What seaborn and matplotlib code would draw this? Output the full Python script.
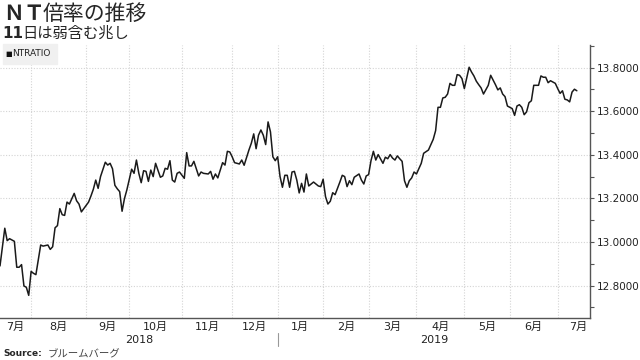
import matplotlib
matplotlib.use("Agg")
import matplotlib.pyplot as plt
import matplotlib.transforms as mtransforms
from matplotlib.ticker import MultipleLocator, FuncFormatter
import pandas as pd
import seaborn as sns

# ---------------------------------------
# Data (x = trading day since 2018-07-12)
# ---------------------------------------

day = [
    0, 2, 3, 4, 5, 6, 7, 8, 9, 10, 11, 12, 13, 14, 15, 17, 18, 20, 21, 22,
    23, 24, 25, 26, 27, 28, 29, 31, 32, 33, 34, 35, 37, 38, 39, 40, 41, 42, 44, 45,
    46, 47, 48, 49, 50, 51, 52, 53, 55, 56, 57, 58, 59, 60, 61, 62, 63, 64, 65, 67,
    68, 69, 70, 71, 72, 73, 74, 75, 77, 78, 79, 80, 81, 83, 84, 85, 87, 88, 89, 90,
    91, 93, 94, 95, 96, 97, 98, 100, 101, 102, 104, 105, 106, 107, 108, 109, 110, 111, 112, 113,
    114, 115, 116, 117, 118, 119, 120, 121, 122, 123, 124, 125, 126, 127, 128, 129, 131, 133, 134, 135,
    136, 137, 138, 139, 140, 142, 143, 144, 145, 146, 147, 148, 150, 151, 152, 153, 154, 155, 156, 157,
    158, 160, 161, 162, 163, 164, 165, 166, 167, 168, 169, 170, 171, 172, 173, 174, 176, 177, 179, 181,
    182, 183, 184, 185, 186, 187, 188, 189, 190, 191, 192, 193, 194, 196, 197, 198, 199, 200, 201, 202,
    204, 205, 207, 208, 209, 210, 211, 212, 213, 214, 215, 216, 217, 218, 219, 220, 221, 222, 223, 225,
    226, 227, 228, 229, 230, 232, 233, 234, 235, 236, 237, 238, 239, 240, 241,
]

ratio = [
    12.890, 13.063, 13.006, 13.015, 13.009, 13.003, 12.884, 12.884, 12.896, 12.798,
    12.792, 12.755, 12.865, 12.856, 12.850, 12.986, 12.981, 12.986, 12.966, 12.978,
    13.065, 13.075, 13.153, 13.125, 13.122, 13.183, 13.174, 13.223, 13.189, 13.174,
    13.138, 13.153, 13.183, 13.211, 13.242, 13.284, 13.246, 13.300, 13.366, 13.353,
    13.361, 13.336, 13.260, 13.244, 13.231, 13.141, 13.199, 13.239, 13.334, 13.315,
    13.376, 13.315, 13.272, 13.327, 13.324, 13.278, 13.330, 13.300, 13.361, 13.297,
    13.303, 13.338, 13.334, 13.373, 13.284, 13.275, 13.315, 13.321, 13.292, 13.410,
    13.349, 13.349, 13.370, 13.303, 13.321, 13.315, 13.312, 13.324, 13.288, 13.312,
    13.294, 13.364, 13.353, 13.416, 13.413, 13.391, 13.364, 13.358, 13.376, 13.352,
    13.422, 13.453, 13.496, 13.428, 13.490, 13.514, 13.490, 13.447, 13.551, 13.505,
    13.391, 13.373, 13.391, 13.300, 13.251, 13.306, 13.306, 13.251, 13.321, 13.324,
    13.284, 13.225, 13.269, 13.229, 13.312, 13.257, 13.275, 13.257, 13.254, 13.288,
    13.208, 13.174, 13.187, 13.226, 13.217, 13.275, 13.306, 13.300, 13.254, 13.281,
    13.263, 13.297, 13.312, 13.284, 13.266, 13.303, 13.309, 13.373, 13.416, 13.376,
    13.401, 13.361, 13.389, 13.382, 13.401, 13.385, 13.376, 13.395, 13.382, 13.370,
    13.281, 13.251, 13.281, 13.294, 13.321, 13.312, 13.361, 13.407, 13.422, 13.471,
    13.511, 13.618, 13.618, 13.661, 13.664, 13.679, 13.728, 13.719, 13.719, 13.768,
    13.765, 13.750, 13.704, 13.802, 13.780, 13.762, 13.738, 13.722, 13.707, 13.679,
    13.719, 13.765, 13.722, 13.698, 13.707, 13.679, 13.667, 13.624, 13.618, 13.612,
    13.581, 13.624, 13.630, 13.618, 13.584, 13.597, 13.639, 13.648, 13.719, 13.719,
    13.762, 13.756, 13.756, 13.731, 13.740, 13.728, 13.704, 13.682, 13.694, 13.655,
    13.652, 13.643, 13.688, 13.701, 13.694,
]

# first trading day of each month (Aug 2018 .. Jul 2019)
month_starts = [13, 36, 54, 76, 97, 116, 135, 154, 174, 194, 213, 233]
month_labels = ["7月", "8月", "9月", "10月", "11月", "12月",
                "1月", "2月", "3月", "4月", "5月", "6月", "7月"]
years = ["2018", "2019"]

df = pd.DataFrame({"day": day, "ratio": ratio})

# ---------------------------------------
# Style
# ---------------------------------------

sns.set_style("white")
plt.rcParams["font.family"] = ["DejaVu Sans", "Noto Sans CJK JP"]

fig = plt.figure(figsize=(6.4, 3.6), dpi=100)
ax = fig.add_axes([0, 1 - 318 / 360, 590 / 640, (318 - 45) / 360])

sns.lineplot(data=df, x="day", y="ratio", ax=ax, color="#1a1a1a",
             linewidth=1.1, legend=False)

x_end = 246.5
ax.set_xlim(0, x_end)
ax.set_ylim(12.651, 13.904)
ax.set_xlabel("")
ax.set_ylabel("")

# spines
for s in ["left", "top"]:
    ax.spines[s].set_visible(False)
for s in ["right", "bottom"]:
    ax.spines[s].set_color("#555555")
    ax.spines[s].set_linewidth(1.0)

# y axis on the right
ax.yaxis.tick_right()
ax.yaxis.set_major_locator(MultipleLocator(0.2))
ax.yaxis.set_minor_locator(MultipleLocator(0.1))
ax.yaxis.set_major_formatter(FuncFormatter(lambda v, p: f"{v:.4f}"))
ax.tick_params(axis="y", which="both", right=True, left=False, length=3,
               width=0.8, color="#555555", labelsize=7.5, pad=2,
               labelcolor="#222222")

# x axis: month boundaries as ticks, labels centred in each month
ax.set_xticks(month_starts)
ax.set_xticklabels([])
edges = [0] + month_starts + [250]
centers = [(a + b) / 2 for a, b in zip(edges[:-1], edges[1:])]
ax.set_xticks(centers, minor=True)
ax.set_xticklabels(month_labels, minor=True)
ax.tick_params(axis="x", which="major", length=4, width=0.8,
               color="#777777", direction="out")
ax.tick_params(axis="x", which="minor", length=0, labelsize=8, pad=3,
               labelcolor="#222222")

ax.grid(True, which="major", color="#d4d4d4", linestyle=(0, (1, 1.5)),
        linewidth=0.8)

# year labels and separator
tr = mtransforms.blended_transform_factory(ax.transData, fig.transFigure)
ax.text(month_starts[5] / 2, 1 - 340 / 360, years[0], transform=tr,
        ha="center", va="center", fontsize=8, color="#222222")
ax.text((month_starts[5] + x_end) / 2, 1 - 340 / 360, years[1], transform=tr,
        ha="center", va="center", fontsize=8, color="#222222")
ax.plot([month_starts[5], month_starts[5]], [1 - 333 / 360, 1 - 346 / 360],
        transform=tr, color="#999999", linewidth=0.8, clip_on=False)

# legend box
fig.patches.append(plt.Rectangle((3 / 640, 1 - 64 / 360), 54 / 640, 20 / 360,
                                 transform=fig.transFigure,
                                 color="#f0f0f0", zorder=5))
fig.text(5 / 640, 1 - 54 / 360, "■", fontsize=5, va="center", ha="left",
         color="#111111", zorder=6)
fig.text(12 / 640, 1 - 54 / 360, "NTRATIO", fontsize=6.5, va="center",
         ha="left", color="#222222", zorder=6)

# titles
cjk = ["Noto Sans CJK JP", "DejaVu Sans"]
fig.text(3 / 640, 1 - 14 / 360, "ＮＴ", fontsize=15, fontweight="bold",
         va="center", ha="left", family=cjk)
fig.text(43 / 640, 1 - 14 / 360, "倍率の推移", fontsize=15, va="center",
         ha="left", family=cjk)
fig.text(2 / 640, 1 - 33 / 360, "11", fontsize=11, fontweight="bold",
         va="center", ha="left")
fig.text(22 / 640, 1 - 33 / 360, "日は弱含む兆し", fontsize=11,
         va="center", ha="left", family=cjk)

# source
fig.text(3 / 640, 1 - 354 / 360, "Source:", fontsize=6.5, fontweight="bold",
         va="center", ha="left")
fig.text(48 / 640, 1 - 354 / 360, "ブルームバーグ", fontsize=7.5,
         va="center", ha="left", color="#444444", family=cjk)

fig.savefig("out.png", dpi=100)
plt.close(fig)
